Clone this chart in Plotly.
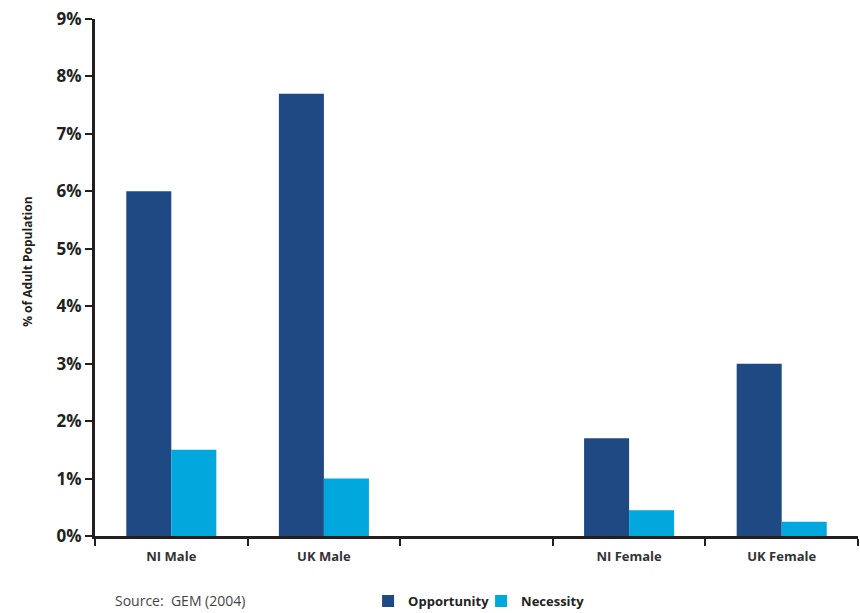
import plotly.graph_objects as go

# Entrepreneurial activity by gender and region (GEM 2004)
categories = ["NI Male", "UK Male", " ", "NI Female", "UK Female"]
opportunity = [6.0, 7.7, None, 1.7, 3.0]
necessity = [1.5, 1.0, None, 0.45, 0.25]
y_ticks = [0, 1, 2, 3, 4, 5, 6, 7, 8, 9]

DARK_BLUE = "#1f4982"
LIGHT_BLUE = "#00a8de"
AXIS_COLOR = "#231f20"
FONT = "Open Sans, Lato, sans-serif"

fig = go.Figure()
fig.add_trace(go.Bar(name="<b>Opportunity</b>", x=categories, y=opportunity,
                     marker_color=DARK_BLUE, marker_line_width=0))
fig.add_trace(go.Bar(name="<b>Necessity</b>", x=categories, y=necessity,
                     marker_color=LIGHT_BLUE, marker_line_width=0))

fig.update_layout(
    width=860, height=613,
    margin=dict(l=95, r=2, t=19, b=77, autoexpand=False),
    paper_bgcolor="white", plot_bgcolor="white",
    barmode="group", bargap=0.41, bargroupgap=0,
    font=dict(family=FONT, color="#333333"),
    showlegend=True,
    legend=dict(orientation="h", x=0.506, xanchor="center", y=-0.126, yanchor="middle",
                font=dict(size=13, color="#222222"), itemwidth=30,
                entrywidth=68, entrywidthmode="pixels",
                traceorder="normal", tracegroupgap=0),
    xaxis=dict(
        type="category", tickson="boundaries", ticks="outside", ticklen=7,
        tickwidth=2, tickcolor=AXIS_COLOR, showline=True, linecolor=AXIS_COLOR,
        linewidth=3, showgrid=False, zeroline=False,
        tickfont=dict(size=13, color="#333333", family=FONT),
        tickprefix="<b>", ticksuffix="</b>", ticklabelstandoff=6,
    ),
    yaxis=dict(
        range=[0, 9], tickvals=y_ticks, ticktext=[f"<b>{v}%</b>" for v in y_ticks],
        ticks="outside", ticklen=7, tickwidth=2, tickcolor=AXIS_COLOR,
        showline=True, linecolor=AXIS_COLOR, linewidth=3, showgrid=False,
        zeroline=False, tickfont=dict(size=17, color="#231f20", family=FONT),
    ),
)

fig.add_annotation(text="<b>% of Adult Population</b>", textangle=-90,
                   xref="paper", yref="paper", x=-0.088, xanchor="center",
                   y=0.53, yanchor="middle",
                   showarrow=False, font=dict(size=12, color="#231f20", family=FONT))
fig.add_annotation(text="Source:  GEM (2004)", xref="paper", yref="paper",
                   x=0.0236, xanchor="left", y=-0.124, yanchor="middle",
                   showarrow=False, font=dict(size=14, color="#444444", family=FONT))

fig.write_html("out.html")
